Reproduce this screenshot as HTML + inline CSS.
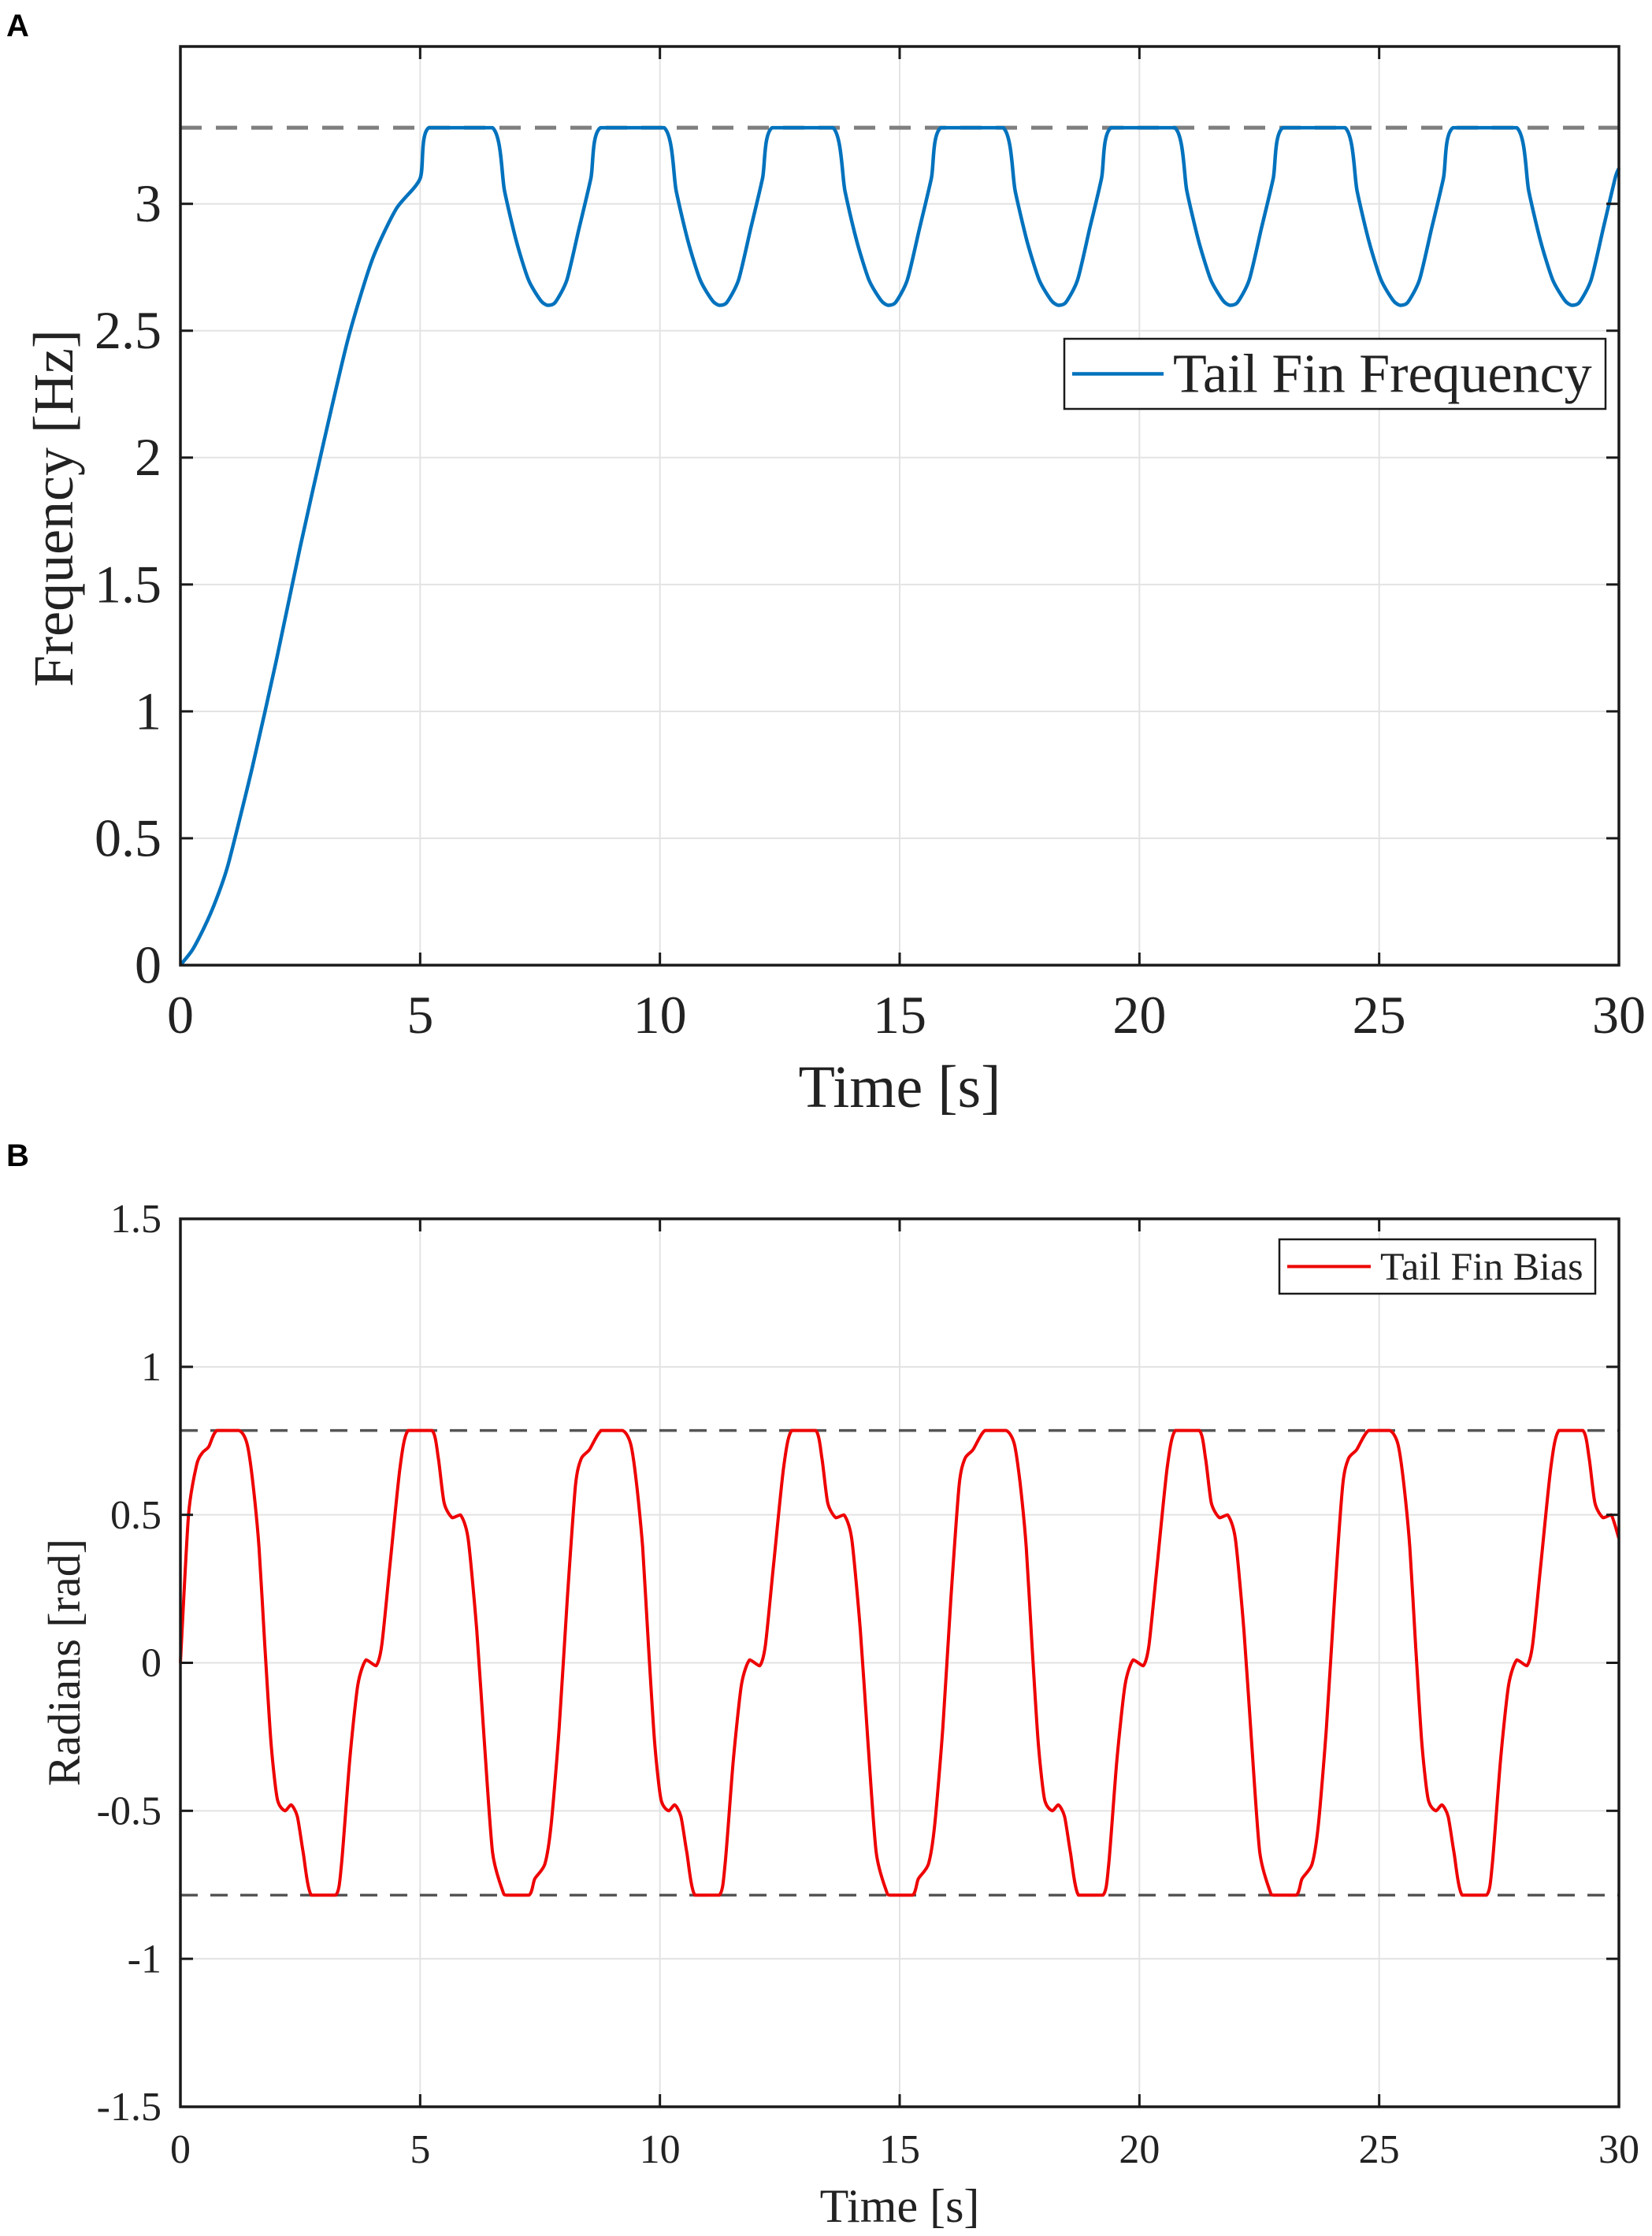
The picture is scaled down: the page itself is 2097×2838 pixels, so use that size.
<!DOCTYPE html>
<html><head><meta charset="utf-8"><style>
html,body{margin:0;padding:0;background:#fff;}
svg{display:block;}
text{font-family:"Liberation Serif",serif;fill:#222;}
</style></head><body>
<svg id="chart" width="2097" height="2838" viewBox="0 0 2097 2838" xmlns="http://www.w3.org/2000/svg">
<text x="8" y="46" style="font-family:'Liberation Sans',sans-serif;font-weight:bold;font-size:40px;fill:#000">A</text>
<text x="8" y="1480" style="font-family:'Liberation Sans',sans-serif;font-weight:bold;font-size:40px;fill:#000">B</text>
<g id="gA"></g>
<g id="gB"></g>
</svg>
<script>
// ---- Panel A data ----
const xTicks = [0,5,10,15,20,25,30];
const yTicksA = [0,0.5,1,1.5,2,2.5,3];
const yTickLabelsA = ["0","0.5","1","1.5","2","2.5","3"];
const freqLimit = 3.3;
const tA = [0,0.25,0.5,0.75,1,1.5,2,2.5,3,3.5,4,4.5,5,5.18,
6.51,6.76,7.01,7.26,7.51,7.66,7.81,8.06,8.31,8.56,8.76,
10.09,10.34,10.59,10.84,11.09,11.24,11.39,11.64,11.89,12.14,12.34,
13.61,13.86,14.11,14.36,14.61,14.76,14.91,15.16,15.41,15.66,15.86,
17.16,17.41,17.66,17.91,18.16,18.31,18.46,18.71,18.96,19.21,19.41,
20.74,20.99,21.24,21.49,21.74,21.89,22.04,22.29,22.54,22.79,22.99,
24.29,24.54,24.79,25.04,25.29,25.44,25.59,25.84,26.09,26.34,26.54,
27.87,28.12,28.37,28.62,28.87,29.02,29.17,29.42,29.67,29.92,30.0];
const vA = [0,0.06,0.15,0.26,0.4,0.78,1.2,1.65,2.07,2.47,2.78,2.98,3.1,3.3,
3.3,3.05,2.85,2.7,2.62,2.6,2.61,2.7,2.9,3.1,3.3,
3.3,3.05,2.85,2.7,2.62,2.6,2.61,2.7,2.9,3.1,3.3,
3.3,3.05,2.85,2.7,2.62,2.6,2.61,2.7,2.9,3.1,3.3,
3.3,3.05,2.85,2.7,2.62,2.6,2.61,2.7,2.9,3.1,3.3,
3.3,3.05,2.85,2.7,2.62,2.6,2.61,2.7,2.9,3.1,3.3,
3.3,3.05,2.85,2.7,2.62,2.6,2.61,2.7,2.9,3.1,3.3,
3.3,3.05,2.85,2.7,2.62,2.6,2.61,2.7,2.9,3.1,3.14];
// ---- Panel B data ----
const yTicksB = [-1.5,-1,-0.5,0,0.5,1,1.5];
const yTickLabelsB = ["-1.5","-1","-0.5","0","0.5","1","1.5"];
const biasLimits = [0.785,-0.785];
const tB = [0,0.17,0.34,0.46,0.59,0.76,
1.22,1.39,1.51,1.64,1.76,1.89,2.02,2.18,2.31,2.44,2.56,2.73,3.24,3.36,3.53,3.70,3.87,4.08,4.2,4.37,4.58,4.75,5.25,5.38,5.5,5.67,5.84,6.0,6.18,6.34,6.51,6.72,6.8,7.27,7.39,7.6,7.73,7.9,8.07,8.24,8.36,8.53,8.78,
9.22,9.39,9.51,9.64,9.76,9.89,10.02,10.18,10.31,10.44,10.56,10.73,11.24,11.36,11.53,11.70,11.87,12.08,12.2,12.37,12.58,12.75,13.25,13.38,13.5,13.67,13.84,14.0,14.18,14.34,14.51,14.72,14.8,15.27,15.39,15.6,15.73,15.9,16.07,16.24,16.36,16.53,16.78,
17.22,17.39,17.51,17.64,17.76,17.89,18.02,18.18,18.31,18.44,18.56,18.73,19.24,19.36,19.53,19.70,19.87,20.08,20.2,20.37,20.58,20.75,21.25,21.38,21.5,21.67,21.84,22.0,22.18,22.34,22.51,22.72,22.8,23.27,23.39,23.6,23.73,23.9,24.07,24.24,24.36,24.53,24.78,
25.22,25.39,25.51,25.64,25.76,25.89,26.02,26.18,26.31,26.44,26.56,26.73,27.24,27.36,27.53,27.70,27.87,28.08,28.2,28.37,28.58,28.75,29.25,29.38,29.5,29.67,29.84,30.0];
const vB = [0,0.5,0.67,0.71,0.73,0.785,
0.785,0.74,0.61,0.39,0.06,-0.27,-0.46,-0.5,-0.48,-0.52,-0.64,-0.785,-0.785,-0.68,-0.33,-0.075,0.01,-0.01,0.06,0.33,0.66,0.785,0.785,0.69,0.54,0.49,0.5,0.42,0.11,-0.27,-0.64,-0.77,-0.785,-0.785,-0.73,-0.68,-0.55,-0.22,0.22,0.6,0.69,0.72,0.785,
0.785,0.74,0.61,0.39,0.06,-0.27,-0.46,-0.5,-0.48,-0.52,-0.64,-0.785,-0.785,-0.68,-0.33,-0.075,0.01,-0.01,0.06,0.33,0.66,0.785,0.785,0.69,0.54,0.49,0.5,0.42,0.11,-0.27,-0.64,-0.77,-0.785,-0.785,-0.73,-0.68,-0.55,-0.22,0.22,0.6,0.69,0.72,0.785,
0.785,0.74,0.61,0.39,0.06,-0.27,-0.46,-0.5,-0.48,-0.52,-0.64,-0.785,-0.785,-0.68,-0.33,-0.075,0.01,-0.01,0.06,0.33,0.66,0.785,0.785,0.69,0.54,0.49,0.5,0.42,0.11,-0.27,-0.64,-0.77,-0.785,-0.785,-0.73,-0.68,-0.55,-0.22,0.22,0.6,0.69,0.72,0.785,
0.785,0.74,0.61,0.39,0.06,-0.27,-0.46,-0.5,-0.48,-0.52,-0.64,-0.785,-0.785,-0.68,-0.33,-0.075,0.01,-0.01,0.06,0.33,0.66,0.785,0.785,0.69,0.54,0.49,0.5,0.42];

const NS = "http://www.w3.org/2000/svg";
function mk(parent, tag, attrs, txt){
  const e = document.createElementNS(NS, tag);
  for (const k in attrs) e.setAttribute(k, attrs[k]);
  if (txt !== undefined) e.textContent = txt;
  parent.appendChild(e); return e;
}
function clamp(v, a, b){ const lo = Math.min(a,b), hi = Math.max(a,b); return Math.max(lo, Math.min(hi, v)); }
function smoothPath(pts){
  let d = "M" + pts[0][0].toFixed(1) + "," + pts[0][1].toFixed(1);
  for (let i = 0; i < pts.length - 1; i++) {
    const p0 = pts[i-1] || pts[i], p1 = pts[i], p2 = pts[i+1], p3 = pts[i+2] || p2;
    const k = 0.12;
    const c1 = [clamp(p1[0] + (p2[0]-p0[0])*k, p1[0], p2[0]), clamp(p1[1] + (p2[1]-p0[1])*k, p1[1], p2[1])];
    const c2 = [clamp(p2[0] - (p3[0]-p1[0])*k, p1[0], p2[0]), clamp(p2[1] - (p3[1]-p1[1])*k, p1[1], p2[1])];
    d += " C" + c1[0].toFixed(1) + "," + c1[1].toFixed(1) + " " + c2[0].toFixed(1) + "," + c2[1].toFixed(1) + " " + p2[0].toFixed(1) + "," + p2[1].toFixed(1);
  }
  return d;
}

function drawPanel(g, cfg){
  const L = cfg.left, R = cfg.right, T = cfg.top, B = cfg.bottom;
  const x = v => L + (v - 0) / 30 * (R - L);
  const y = v => B - (v - cfg.ymin) / (cfg.ymax - cfg.ymin) * (B - T);
  xTicks.forEach(v => {
    const ln = mk(g, "line", {x1:x(v), x2:x(v), y1:T, y2:B, stroke:"#e3e3e3", "stroke-width":2});
    
    
  });
  cfg.yTicks.forEach(v => {
    const ln = mk(g, "line", {x1:L, x2:R, y1:y(v), y2:y(v), stroke:"#e3e3e3", "stroke-width":2});
    
    
  });
  cfg.limits.forEach(v => {
    const ln = mk(g, "line", {x1:L, x2:R, y1:y(v), y2:y(v), stroke:cfg.dashColor, "stroke-width":cfg.dashW, "stroke-dasharray":cfg.dash});
    
    
  });
  const pts = cfg.t.map((tv, i) => [x(tv), y(cfg.v[i])]);
  const path = mk(g, "path", {d:smoothPath(pts), fill:"none", stroke:cfg.color, "stroke-width":cfg.lineW, "stroke-linejoin":"round"});
  
  
  const box = mk(g, "rect", {x:L, y:T, width:R-L, height:B-T, fill:"none", stroke:"#1a1a1a", "stroke-width":cfg.boxW});
  
  
  const tl = cfg.tickLen;
  xTicks.forEach(v => {
    const a = mk(g, "line", {x1:x(v), x2:x(v), y1:B, y2:B-tl, stroke:"#1a1a1a", "stroke-width":3});
    
    
    const b = mk(g, "line", {x1:x(v), x2:x(v), y1:T, y2:T+tl, stroke:"#1a1a1a", "stroke-width":3});
    
    
    const lb = mk(g, "text", {x:x(v), y:cfg.xLabelY, "text-anchor":"middle", "font-size":cfg.tickFont}, String(v));
    
    
  });
  cfg.yTicks.forEach((v, i) => {
    const a = mk(g, "line", {x1:L, x2:L+tl, y1:y(v), y2:y(v), stroke:"#1a1a1a", "stroke-width":3});
    
    
    const b = mk(g, "line", {x1:R, x2:R-tl, y1:y(v), y2:y(v), stroke:"#1a1a1a", "stroke-width":3});
    
    
    const lb = mk(g, "text", {x:cfg.yLabelX, y:y(v) + cfg.tickFont*0.33, "text-anchor":"end", "font-size":cfg.tickFont}, cfg.yTickLabels[i]);
    
    
  });
  const xt = mk(g, "text", {x:(L+R)/2, y:cfg.xTitleY, "text-anchor":"middle", "font-size":cfg.titleFont}, "Time [s]");
  
  
  const yt = mk(g, "text", {x:0, y:0, "text-anchor":"middle", "font-size":cfg.yTitleFont, transform:"translate(" + cfg.yTitleX + "," + cfg.yTitleY + ") rotate(-90)"}, cfg.yTitle);
  
  
  const lg = cfg.legend;
  const lgBox = mk(g, "rect", {x:lg.x, y:lg.y, width:lg.w, height:lg.h, fill:"#fff", stroke:"#1a1a1a", "stroke-width":2.5});
  
  
  const lgLine = mk(g, "line", {x1:lg.x+10, x2:lg.x+10+lg.lineLen, y1:lg.y+lg.h/2, y2:lg.y+lg.h/2, stroke:cfg.color, "stroke-width":cfg.lineW});
  
  
  const lgText = mk(g, "text", {x:lg.x+lg.lineLen+22, y:lg.y+lg.h/2+lg.font*0.33, "font-size":lg.font}, cfg.seriesLabel);
  
  
}

drawPanel(document.getElementById("gA"), {
  left:229, right:2055, top:59, bottom:1225, ymin:0, ymax:3.62,
  yTicks:yTicksA, yTickLabels:yTickLabelsA, limits:[freqLimit],
  dashColor:"#7f7f7f", dashW:5, dash:"27 18",
  t:tA, v:vA, color:"#0072BD", lineW:4.5, seriesName:"tail-fin-frequency-line",
  boxW:3.5, tickLen:16, tickFont:68, xLabelY:1311, yLabelX:205,
  titleFont:76, yTitleFont:72, xTitleY:1405, yTitle:"Frequency [Hz]", yTitleX:92, yTitleY:645,
  seriesLabel:"Tail Fin Frequency",
  legend:{x:1351, y:430, w:687, h:89, lineLen:116, font:70}
});
drawPanel(document.getElementById("gB"), {
  left:229, right:2055, top:1547, bottom:2674, ymin:-1.5, ymax:1.5,
  yTicks:yTicksB, yTickLabels:yTickLabelsB, limits:biasLimits,
  dashColor:"#555555", dashW:3.5, dash:"22 16",
  t:tB, v:vB, color:"#ee0000", lineW:4, seriesName:"tail-fin-bias-line",
  boxW:3.5, tickLen:16, tickFont:52, xLabelY:2745, yLabelX:205,
  titleFont:60, yTitleFont:58, xTitleY:2820, yTitle:"Radians [rad]", yTitleX:101, yTitleY:2110,
  seriesLabel:"Tail Fin Bias",
  legend:{x:1624, y:1573, w:401, h:69, lineLen:106, font:50}
});
</script>
</body></html>
